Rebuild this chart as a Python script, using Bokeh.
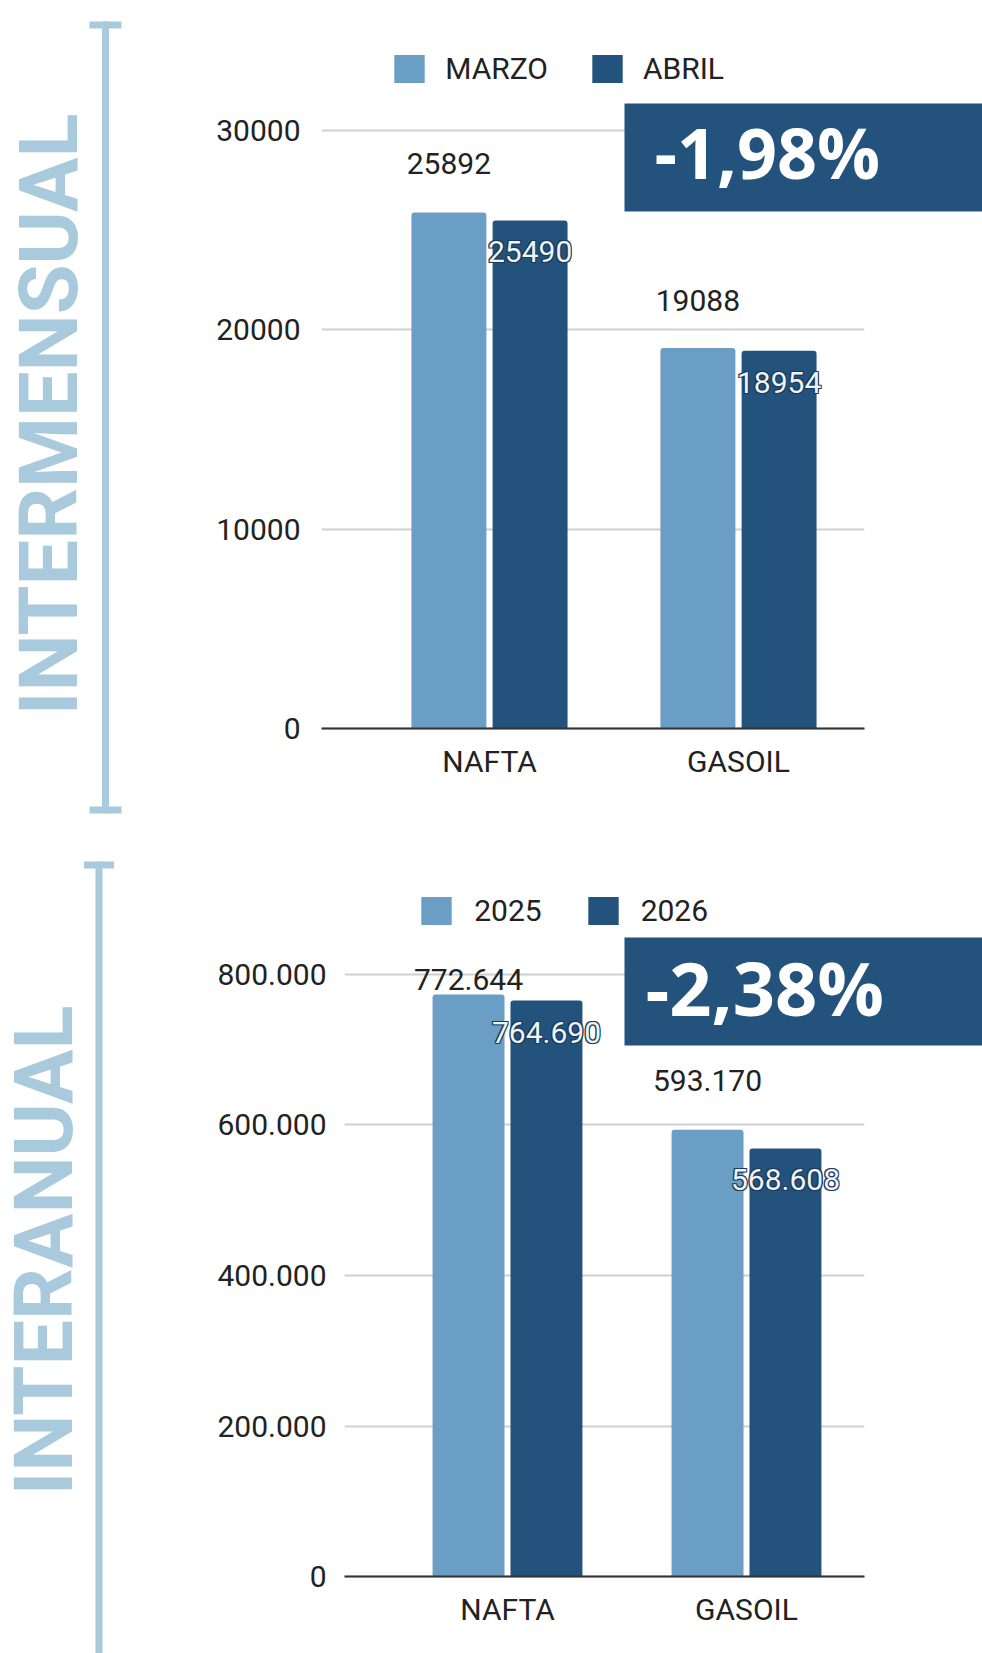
import numpy as np
from bokeh.plotting import figure
from bokeh.models import (Range1d, FixedTicker, Legend, LegendItem,
                          BoxAnnotation, Label, VBar)
from bokeh.layouts import column
from bokeh.core.properties import value
from bokeh.embed import file_html
from bokeh.resources import INLINE

# ---------------- data ----------------
categories = ["NAFTA", "GASOIL"]

# Panel 1: intermensual
m_title = "INTERMENSUAL"
m_series = ["MARZO", "ABRIL"]
m_marzo = [25892, 19088]
m_abril = [25490, 18954]
m_marzo_labels = ["25892", "19088"]
m_abril_labels = ["25490", "18954"]
m_ticks = [0, 10000, 20000, 30000]
m_tick_labels = ["0", "10000", "20000", "30000"]
m_change = "-1,98%"

# Panel 2: interanual
a_title = "INTERANUAL"
a_series = ["2025", "2026"]
a_2025 = [772644, 593170]
a_2026 = [764690, 568608]
a_2025_labels = ["772.644", "593.170"]
a_2026_labels = ["764.690", "568.608"]
a_ticks = [0, 200000, 400000, 600000, 800000]
a_tick_labels = ["0", "200.000", "400.000", "600.000", "800.000"]
a_change = "-2,38%"

# ---------------- style ----------------
LIGHT = "#6a9ec5"
DARK = "#23537d"
ACCENT = "#a9cadd"
TXT = "#222222"
FONT = "Roboto"
W = 982
BASE_SHIFT = 0.33   # label baseline correction (in em)
HAS_RADIUS = "border_radius" in VBar.properties()


def make_panel(H, title, series, v1, v2, lab1, lab2, ticks, tick_labels, change, g):
    c1, c2 = g["cat_px"]
    sp = c2 - c1
    fb = g["base_px"]
    gx0_px, gx1_px = g["grid_px"]

    def dx(px):
        return (px - c1) / sp

    ppu = (fb - g["top_tick_px"]) / ticks[-1]

    p = figure(width=W, height=H, output_backend="svg", toolbar_location=None,
               x_range=Range1d(dx(0), dx(W)),
               y_range=Range1d(-(H - fb) / ppu, fb / ppu),
               min_border=0)
    p.outline_line_color = None
    p.background_fill_color = "white"
    p.border_fill_color = "white"

    def sy(y):
        return H - y

    def sbox(left, right, top, bottom, color, level="annotation"):
        return BoxAnnotation(left=left, right=right, top=sy(top), bottom=sy(bottom),
                             left_units="screen", right_units="screen",
                             top_units="screen", bottom_units="screen",
                             fill_color=color, fill_alpha=1, line_color=None,
                             level=level)

    # grid restricted to the chart area
    yg = p.ygrid[0]
    yg.ticker = FixedTicker(ticks=ticks)
    yg.grid_line_color = "#d0d0d0"
    yg.grid_line_width = 2
    if "cross_bounds" in yg.properties():
        yg.cross_bounds = (dx(gx0_px), dx(gx1_px))
    p.xgrid.grid_line_color = None
    p.add_layout(sbox(0, gx0_px, 0, H, "white", "underlay"))
    p.add_layout(sbox(gx1_px, W + 5, 0, H, "white", "underlay"))

    xs = np.arange(len(categories))
    dodge = 0.163
    bw = 0.301
    kw = dict(border_radius=(3, 3, 0, 0)) if HAS_RADIUS else {}
    r1 = p.vbar(x=xs - dodge, top=v1, width=bw, bottom=0,
                fill_color=LIGHT, line_color=None, **kw)
    r2 = p.vbar(x=xs + dodge, top=v2, width=bw, bottom=0,
                fill_color=DARK, line_color=None, **kw)

    # data labels
    p.text(x=xs - dodge, y=v1, text=lab1, y_offset=g["out_off"],
           text_align="center", text_baseline="middle",
           text_font=value(FONT), text_font_size="30px", text_color=TXT)
    for ox, oy in [(-1.2, -1.2), (1.2, -1.2), (-1.2, 1.2), (1.2, 1.2)]:
        p.text(x=xs + dodge, y=v2, text=lab2,
               x_offset=ox, y_offset=[o + oy for o in g["in_off"]],
               text_align="center", text_baseline="middle",
               text_font=value(FONT), text_font_size="30px",
               text_color="#1b3a57")
    p.text(x=xs + dodge, y=v2, text=lab2, y_offset=g["in_off"],
           text_align="center", text_baseline="middle",
           text_font=value(FONT), text_font_size="30px", text_color="#eef3f8")

    # axes drawn at fixed places inside the canvas
    xa = p.xaxis[0]
    xa.fixed_location = 0
    xa.bounds = (dx(gx0_px), dx(gx1_px))
    xa.ticker = FixedTicker(ticks=list(xs))
    xa.major_label_overrides = {int(i): c for i, c in zip(xs, categories)}
    xa.axis_line_color = "#333333"
    xa.axis_line_width = 2
    xa.major_tick_line_color = None
    xa.minor_tick_line_color = None
    xa.major_tick_out = 0
    xa.major_tick_in = 0
    xa.major_label_standoff = 15
    xa.major_label_text_font = FONT
    xa.major_label_text_font_size = "30px"
    xa.major_label_text_color = TXT

    ya = p.yaxis[0]
    ya.fixed_location = dx(gx0_px)
    ya.ticker = FixedTicker(ticks=ticks)
    ya.major_label_overrides = {t: s for t, s in zip(ticks, tick_labels)}
    ya.axis_line_color = None
    ya.major_tick_line_color = None
    ya.minor_tick_line_color = None
    ya.major_tick_out = 0
    ya.major_tick_in = 0
    ya.major_label_standoff = g["y_standoff"]
    ya.major_label_text_font = FONT
    ya.major_label_text_font_size = "30px"
    ya.major_label_text_color = TXT

    # legend (bar glyphs are drawn at 80% of the glyph box)
    gw, gh = 38, 35
    legend = Legend(items=[LegendItem(label=series[0], renderers=[r1]),
                           LegendItem(label=series[1], renderers=[r2])],
                    orientation="horizontal",
                    location=(g["leg_x"] - 0.1 * gw, H - (g["leg_top"] - 0.1 * gh) - gh),
                    glyph_width=gw, glyph_height=gh,
                    label_standoff=g["leg_standoff"], spacing=g["leg_spacing"],
                    padding=0, margin=0, border_line_color=None,
                    background_fill_alpha=0,
                    label_text_font=FONT, label_text_font_size="30px",
                    label_text_color=TXT)
    p.add_layout(legend)

    # bracket
    bx, bt, bb, cw = g["br_x"], g["br_top"], g["br_bot"], g["cap_w"]
    p.add_layout(sbox(bx - 3.5, bx + 3.5, bt, bb, ACCENT))
    for cy in (bt, bb - 7):
        p.add_layout(sbox(bx - cw, bx + cw, cy, cy + 7, ACCENT))

    # vertical title (baseline runs vertically at t_base)
    tsize = g["t_size"]
    p.add_layout(Label(x=g["t_base"] - BASE_SHIFT * tsize, y=sy(g["t_mid"]), text=title,
                       x_units="screen", y_units="screen", angle=np.pi / 2,
                       text_align="center", text_baseline="alphabetic",
                       text_font="Roboto", text_font_style="bold",
                       text_font_size=f"{tsize}px", text_color=ACCENT))

    # change box
    bl, btop, bbot = g["box"]
    p.add_layout(sbox(bl, W + 5, btop, bbot, DARK))
    tx, tb, ts = g["chg"]
    p.add_layout(Label(x=tx, y=sy(tb - BASE_SHIFT * ts), text=change,
                       x_units="screen", y_units="screen",
                       text_align="left", text_baseline="alphabetic",
                       text_font="Open Sans", text_font_style="bold",
                       text_font_size=f"{ts}px", text_color="white"))
    return p


g1 = dict(cat_px=(489, 738), base_px=728, top_tick_px=130, grid_px=(321, 864),
          out_off=[-49, -48], in_off=[31, 32], y_standoff=21,
          leg_x=394, leg_top=54, leg_standoff=17, leg_spacing=40,
          br_x=105, br_top=21, br_bot=813, cap_w=16,
          t_base=76, t_mid=414, t_size=81,
          box=(624, 103, 211), chg=(654, 175, 70))
g2 = dict(cat_px=(507, 746), base_px=746.4, top_tick_px=143.5, grid_px=(344, 864),
          out_off=[-15, -49], in_off=[32, 31], y_standoff=18,
          leg_x=421, leg_top=66, leg_standoff=19, leg_spacing=42,
          br_x=98.5, br_top=31, br_bot=830, cap_w=15,
          t_base=71, t_mid=420, t_size=81,
          box=(624, 107, 215), chg=(645, 181, 74))

p1 = make_panel(830, m_title, m_series, m_marzo, m_abril, m_marzo_labels, m_abril_labels,
                m_ticks, m_tick_labels, m_change, g1)
p2 = make_panel(823, a_title, a_series, a_2025, a_2026, a_2025_labels, a_2026_labels,
                a_ticks, a_tick_labels, a_change, g2)

layout = column(p1, p2, spacing=0)
open("out.html", "w").write(file_html(layout, INLINE))
